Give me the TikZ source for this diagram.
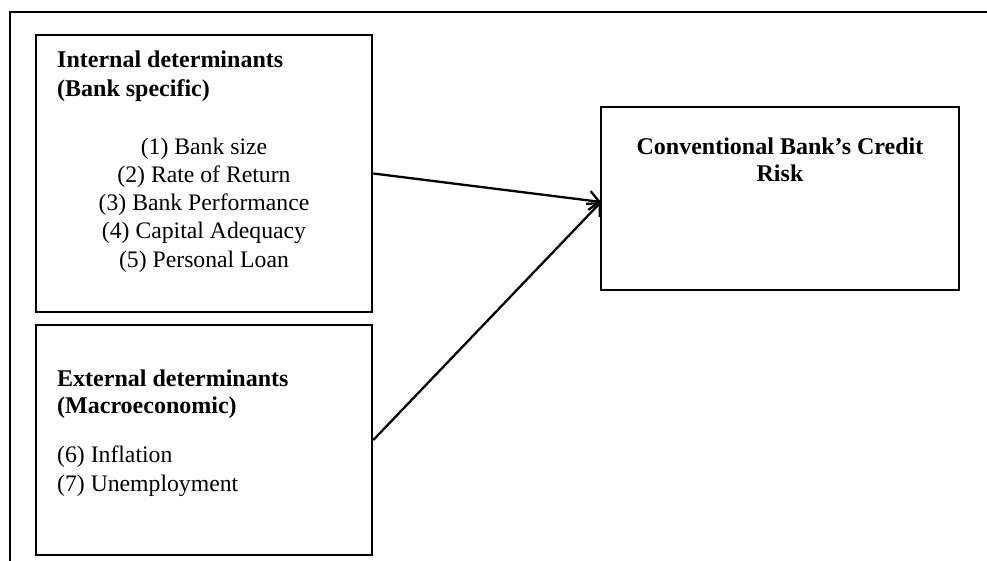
\documentclass[tikz,border=0pt]{standalone}
\usepackage{fontspec}
\setmainfont{Liberation Serif}
\usetikzlibrary{arrows.meta}
\begin{document}
\begin{tikzpicture}[x=1pt,y=-1pt,
  box/.style={draw=black,line width=2.6pt,rectangle,inner sep=0pt},
  txt/.style={inner sep=0pt,font=\fontsize{23.7}{28}\selectfont},
  btxt/.style={txt,font=\fontsize{24}{28}\selectfont\bfseries},
  conn/.style={line width=2.3pt,-{Straight Barb[length=10pt,width=19pt,line width=2.3pt]}}]
\useasboundingbox (0,0) rectangle (987,561);
\fill[white] (0,0) rectangle (987,561);
% outer frame (cut off at right and bottom)
\draw[line width=2.4pt] (10,570) -- (10,12) -- (995,12);
% boxes
\node[box,minimum width=336pt,minimum height=277pt] (int) at (204,173.5) {};
\node[box,minimum width=336pt,minimum height=230pt] (ext) at (204,440) {};
\node[box,minimum width=358pt,minimum height=183pt] (crb) at (780,198.5) {};
% internal text
\node[btxt,anchor=base west] (it1) at (57,68) {Internal determinants};
\node[btxt,anchor=base west] (it2) at (57,97) {(Bank specific)};
\node[txt,anchor=base] (i1) at (204,155) {(1) Bank size};
\node[txt,anchor=base] (i2) at (204,183) {(2) Rate of Return};
\node[txt,anchor=base] (i3) at (204,211) {(3) Bank Performance};
\node[txt,anchor=base] (i4) at (204,239) {(4) Capital Adequacy};
\node[txt,anchor=base] (i5) at (204,267) {(5) Personal Loan};
% external text
\node[btxt,anchor=base west] (et1) at (57,386) {External determinants};
\node[btxt,anchor=base west] (et2) at (57,413) {(Macroeconomic)};
\node[txt,anchor=base west] (e6) at (57,462) {(6) Inflation};
\node[txt,anchor=base west] (e7) at (57,491) {(7) Unemployment};
% result text
\node[btxt,anchor=base] (c1) at (780,155) {Conventional Bank’s Credit};
\node[btxt,anchor=base] (c2) at (780,182) {Risk};
% connectors
\coordinate (tip) at (601,202);
\draw[conn] (int.east) -- (tip);
\draw[conn] (ext.east) -- (tip);
\end{tikzpicture}
\end{document}
